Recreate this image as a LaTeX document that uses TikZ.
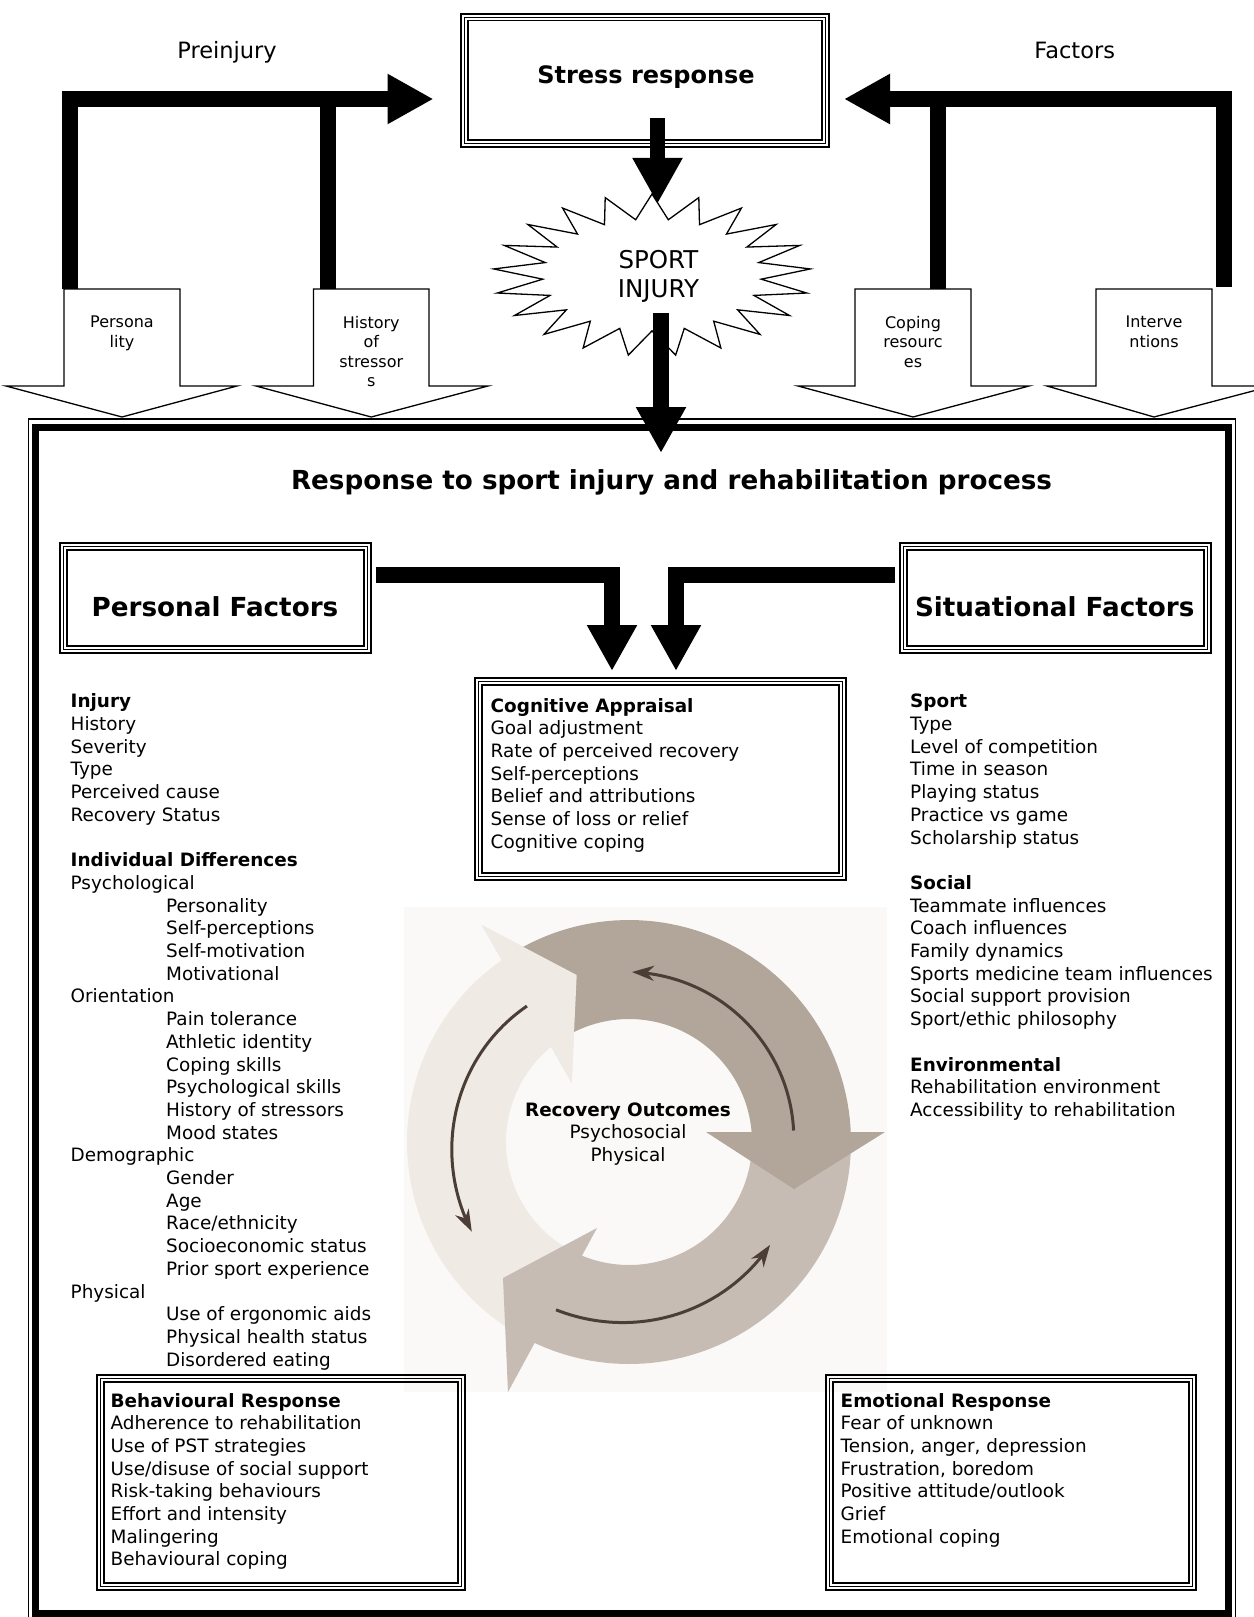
\documentclass[tikz,border=0pt]{standalone}
\usepackage{fontspec}
\setmainfont{DejaVu Sans}
\usetikzlibrary{calc,arrows.meta,shapes.geometric}

\definecolor{ringdark}{RGB}{178,165,153}
\definecolor{ringmid}{RGB}{199,188,179}
\definecolor{ringlight}{RGB}{239,234,228}
\definecolor{ringbg}{RGB}{250,249,247}
\definecolor{cyclebrown}{RGB}{74,62,54}

\newcommand\fsz[2]{\fontsize{#1pt}{#2pt}\selectfont}

% three-line border around a named node
\newcommand\triframe[1]{%
  \draw[line width=1.8pt] ($(#1.north west)+(-3.4,-3.4)$) rectangle ($(#1.south east)+(3.4,3.4)$);
  \draw[line width=0.9pt] (#1.north west) rectangle (#1.south east);
  \draw[line width=1.8pt] ($(#1.north west)+(3.4,3.4)$) rectangle ($(#1.south east)+(-3.4,-3.4)$);}

% hollow block arrow pointing down, shaft given by a named node
\newcommand\downblock[3]{%
  \draw[blockline] (#1.north west) -- (#1.north east) -- (#1.south east) -- ++(#3,0)
    -- ($(#1.south)+(0,31)$) -- ($(#1.south west)+(-#2,0)$) -- (#1.south west) -- cycle;}

% ring geometry of the recovery cycle
\def\ringx{629}
\def\ringy{1142}
\def\ringo{222}
\def\ringi{123}
\newcommand\ringsector[3]{%
  \fill[#1] plot[domain=#2:#3, samples=60] ({\ringx+\ringo*cos(\x)},{\ringy-\ringo*sin(\x)})
    -- plot[domain=#3:#2, samples=60] ({\ringx+\ringi*cos(\x)},{\ringy-\ringi*sin(\x)}) -- cycle;}

\begin{document}
\begin{tikzpicture}[x=1pt,y=-1pt,
  txt/.style={font={\fsz{18.4}{22.7}}, inner sep=0pt, anchor=base west},
  ctxt/.style={font={\fsz{18.4}{22.7}}, inner sep=0pt, anchor=base},
  headtxt/.style={font={\bfseries\fsz{26.2}{30}}, inner sep=0pt, anchor=base},
  blktxt/.style={font={\fsz{16}{19.5}}, inner sep=0pt, anchor=north, align=center},
  boxnode/.style={rectangle, inner sep=0pt, outer sep=0pt},
  bar/.style={line width=16pt},
  bartip/.style={-{Triangle[length=46pt,width=47pt]}},
  fatarrow/.style={line width=15.5pt, -{Triangle[length=46pt,width=47pt]}},
  blockline/.style={draw=black, fill=white, line width=1.3pt, line join=miter},
  cyclearrow/.style={draw=cyclebrown, line width=3pt, -{Stealth[length=22pt,width=15pt,inset=7pt]}},
]
\useasboundingbox (0,0) rectangle (1253,1617);

% ---------- recovery cycle ----------
\fill[ringbg] (404,907) rectangle (887,1392);
\ringsector{ringlight}{242}{119}
\fill[ringlight] (481.7,925) -- (576.7,975) -- (571.7,1083) -- cycle;
\ringsector{ringmid}{357}{240}
\fill[ringmid] (508,1392) -- (503,1278) -- (597,1228) -- cycle;
\ringsector{ringdark}{120}{0}
\fill[ringdark] (885,1132) -- (794,1189) -- (706,1132) -- cycle;
\fill[ringlight] (481.7,925) -- (576.7,975) -- (571.7,1083) -- cycle;

\draw[cyclearrow] plot[domain=4:89, samples=50]
  ({\ringx+(165+5*(\x-4)/85)*cos(\x)},{\ringy-(165+5*(\x-4)/85)*sin(\x)});
\draw[cyclearrow] plot[domain=126.9:209.7, samples=50]
  ({\ringx+(170+11*(\x-126.9)/82.8)*cos(\x)},{\ringy-(170+11*(\x-126.9)/82.8)*sin(\x)});
\draw[cyclearrow] plot[domain=246.5:323.9, samples=50]
  ({\ringx+(183-8.4*(\x-246.5)/77.4)*cos(\x)},{\ringy-(183-8.4*(\x-246.5)/77.4)*sin(\x)});

% ---------- outer frame ----------
\node[boxnode, draw, line width=7pt, minimum width=1193, minimum height=1186] (outer) at (632,1020.5) {};
\draw[line width=1.6pt] ($(outer.north west)+(-7,-8.5)$) rectangle ($(outer.south east)+(7,8)$);

% ---------- boxes ----------
\node[boxnode, minimum width=361.4, minimum height=126.7] (stress) at (645,80.35) {};
\node[boxnode, minimum width=304.4, minimum height=103.4] (pf) at (215.5,598) {};
\node[boxnode, minimum width=304.4, minimum height=103.4] (sf) at (1055.5,598) {};
\node[boxnode, minimum width=364.4, minimum height=195.4] (cog) at (660.5,779) {};
\node[boxnode, minimum width=361.4, minimum height=208.4] (beh) at (281,1482.5) {};
\node[boxnode, minimum width=363.4, minimum height=208.4] (emo) at (1011,1482.5) {};
\triframe{stress}
\triframe{pf}
\triframe{sf}
\triframe{cog}
\triframe{beh}
\triframe{emo}

% ---------- factor block arrows ----------
\node[boxnode, minimum width=116, minimum height=97] (pers) at (122,337.5) {};
\node[boxnode, minimum width=115.5, minimum height=97] (hist) at (371.25,337.5) {};
\node[boxnode, minimum width=116, minimum height=97] (cope) at (913,337.5) {};
\node[boxnode, minimum width=116, minimum height=97] (interv) at (1154,337.5) {};
\downblock{pers}{58}{57}
\downblock{hist}{57.5}{59}
\downblock{cope}{57}{58}
\downblock{interv}{49}{60}
\node[blktxt] (perst) at ($(pers.north)+(0,27)$) {Persona\\lity};
\node[blktxt] (histt) at ($(hist.north)+(0,27)$) {History\\of\\stressor\\s};
\node[blktxt] (copet) at ($(cope.north)+(0,27)$) {Coping\\resourc\\es};
\node[blktxt] (intervt) at ($(interv.north)+(0,27)$) {Interve\\ntions};

% ---------- brackets into the stress response ----------
\draw[bar, bartip] ($(pers.north west)+(6,0)$) |- ($(stress.west)+(-30.8,18.65)$);
\draw[bar] ($(hist.north west)+(14.5,0)$) -- ++(0,-190);
\draw[bar, bartip] ($(interv.north east)+(11.5,-2)$) |- ($(stress.east)+(18.3,18.65)$);
\draw[bar] ($(cope.north east)+(-33,0)$) -- ++(0,-190);

% ---------- sport injury ----------
\begin{scope}[shift={(652,275)}]
  \node[star, star points=21, star point ratio=1.45, minimum size=162, inner sep=0pt,
        draw, line width=1.3pt, fill=white, xscale=1.96, transform shape] (inj) at (0,0) {};
\end{scope}
\node[font={\fsz{24.5}{29}}, inner sep=0pt, anchor=base] (inj1) at (658.5,268.3) {SPORT};
\node[font={\fsz{24.5}{29}}, inner sep=0pt, anchor=base] (inj2) at (658.5,297.7) {INJURY};

\draw[fatarrow] ($(stress.south)+(12.5,-25.7)$) -- ($(inj.north)+(5.5,12)$);
\draw[fatarrow] ($(inj.south)+(9,-19)$) -- ($(outer.north)+(29,25.5)$);
\draw[fatarrow] ($(pf.east)+(8,-23)$) -| ($(cog.north)+(-48.5,-10.3)$);
\draw[fatarrow] ($(sf.west)+(-8,-23)$) -| ($(cog.north)+(15.5,-10.3)$);

% ---------- headings ----------
\node[font={\fsz{22.5}{27}}, inner sep=0pt, anchor=base] (pre) at (227,58.3) {Preinjury};
\node[font={\fsz{22.5}{27}}, inner sep=0pt, anchor=base] (fac) at (1074.7,58.3) {Factors};
\node[font={\bfseries\fsz{24}{28}}, inner sep=0pt, anchor=base] (stresst) at (646,83.3) {Stress response};
\node[headtxt] (title) at (671.5,489.3) {Response to sport injury and rehabilitation process};
\node[headtxt] (pft) at (215,616) {Personal Factors};
\node[headtxt] (sft) at (1054.7,616) {Situational Factors};

% ---------- personal factors list ----------
\foreach \k/\w in {0/\textbf{Injury},1/History,2/Severity,3/Type,4/Perceived cause,5/Recovery Status,
    7/\textbf{Individual Differences},8/Psychological,13/Orientation,20/Demographic,26/Physical}
  \node[txt] (pl\k) at (70.5,{707.8+22.7*\k}) {\w};
\foreach \k/\w in {9/Personality,10/Self-perceptions,11/Self-motivation,12/Motivational,
    14/Pain tolerance,15/Athletic identity,16/Coping skills,17/Psychological skills,
    18/History of stressors,19/Mood states,21/Gender,22/Age,23/{Race/ethnicity},
    24/Socioeconomic status,25/Prior sport experience,27/Use of ergonomic aids,
    28/Physical health status,29/Disordered eating}
  \node[txt] (pl\k) at (166,{707.8+22.7*\k}) {\w};

% ---------- situational factors list ----------
\foreach \k/\w in {0/\textbf{Sport},1/Type,2/Level of competition,3/Time in season,4/Playing status,
    5/Practice vs game,6/Scholarship status,8/\textbf{Social},9/Teammate influences,
    10/Coach influences,11/Family dynamics,12/Sports medicine team influences,
    13/Social support provision,14/{Sport/ethic philosophy},16/\textbf{Environmental},
    17/Rehabilitation environment,18/Accessibility to rehabilitation}
  \node[txt] (sl\k) at (910,{707.8+22.7*\k}) {\w};

% ---------- box contents ----------
\foreach \k/\w in {0/\textbf{Cognitive Appraisal},1/Goal adjustment,2/Rate of perceived recovery,
    3/Self-perceptions,4/Belief and attributions,5/Sense of loss or relief,6/Cognitive coping}
  \node[txt] (cg\k) at (490.5,{712+22.7*\k}) {\w};
\foreach \k/\w in {0/\textbf{Behavioural Response},1/Adherence to rehabilitation,2/Use of PST strategies,
    3/{Use/disuse of social support},4/Risk-taking behaviours,5/Effort and intensity,
    6/Malingering,7/Behavioural coping}
  \node[txt] (bh\k) at (110.5,{1407+22.7*\k}) {\w};
\foreach \k/\w in {0/\textbf{Emotional Response},1/Fear of unknown,2/{Tension, anger, depression},
    3/{Frustration, boredom},4/{Positive attitude/outlook},5/Grief,6/Emotional coping}
  \node[txt] (em\k) at (840.5,{1407+22.7*\k}) {\w};

\node[ctxt] (ro1) at (628,1116) {\textbf{Recovery Outcomes}};
\node[ctxt] (ro2) at (628,1138.7) {Psychosocial};
\node[ctxt] (ro3) at (628,1161.4) {Physical};
\end{tikzpicture}
\end{document}
